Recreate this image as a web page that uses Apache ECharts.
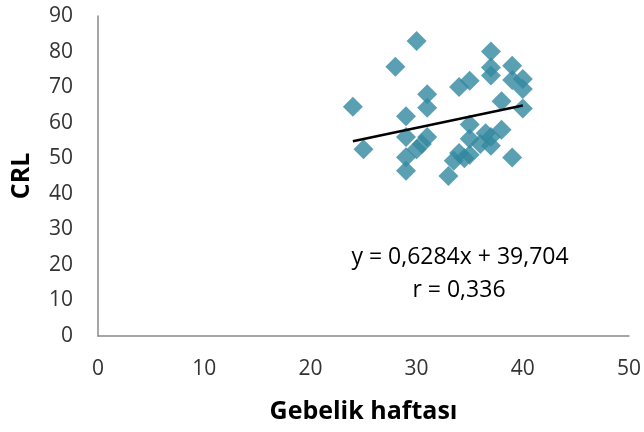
<!DOCTYPE html>
<html>
<head>
<meta charset="utf-8">
<script src="https://cdn.jsdelivr.net/npm/echarts@6/dist/echarts.min.js"></script>
<style>html,body{margin:0;padding:0;background:#fff}#c{width:644px;height:432px}</style>
</head>
<body>
<div id="c"></div>
<script>
// Data: [gestational week, CRL]
const weeks = [24, 25, 28, 30, 29, 29, 29, 29, 31, 31, 31, 30.5, 30, 33.5, 34.5, 33, 35, 35, 36.5, 37, 38, 34, 35, 39, 37, 37, 37, 39, 40, 39, 40, 34, 35, 38, 40, 36, 37];
const crl   = [64.5, 52.5, 75.7, 83, 61.8, 56, 50.3, 46.5, 68, 64.2, 56, 54, 52.5, 49.3, 50, 45, 59.5, 55.5, 57, 53.5, 58, 51.5, 51, 50.2, 80, 75.5, 73.3, 76, 72.3, 72, 69.5, 70, 71.8, 66, 64, 54, 56];
const xTicks = [0, 10, 20, 30, 40, 50];
const yTicks = [0, 10, 20, 30, 40, 50, 60, 70, 80, 90];
const slope = 0.6284;
const intercept = 39.704;
const trendRange = [24, 40];
const equationText = 'y = 0,6284x + 39,704';
const rText = 'r = 0,336';

const points = weeks.map((w, i) => [w, crl[i]]);
const trend = trendRange.map(x => [x, slope * x + intercept]);

const font = 'Open Sans';
const chart = echarts.init(document.getElementById('c'), null, {renderer: 'canvas'});
chart.setOption({
  animation: false,
  grid: {left: 98, right: 13, top: 16, bottom: 96},
  xAxis: {
    type: 'value', min: xTicks[0], max: xTicks[xTicks.length - 1], interval: 10,
    name: 'Gebelik haftası', nameLocation: 'middle', nameGap: 63,
    nameTextStyle: {fontFamily: font, fontSize: 25, fontWeight: 'bold', color: '#000'},
    axisLine: {show: true, lineStyle: {color: '#898989', width: 1.5}},
    axisTick: {show: false}, splitLine: {show: false},
    axisLabel: {fontFamily: font, fontSize: 21, color: '#333', margin: 23}
  },
  yAxis: {
    type: 'value', min: yTicks[0], max: yTicks[yTicks.length - 1], interval: 10,
    name: 'CRL', nameLocation: 'middle', nameGap: 64,
    nameTextStyle: {fontFamily: font, fontSize: 25, fontWeight: 'bold', color: '#000'},
    axisLine: {show: true, lineStyle: {color: '#898989', width: 1.5}},
    axisTick: {show: false}, splitLine: {show: false},
    axisLabel: {fontFamily: font, fontSize: 21, color: '#333', margin: 25}
  },
  series: [
    {type: 'scatter', data: points, symbol: 'diamond', symbolSize: 20,
     itemStyle: {color: '#32889F'}, z: 2},
    {type: 'line', data: trend, symbol: 'none', lineStyle: {color: '#000', width: 2.5}, z: 3}
  ],
  graphic: [
    {type: 'text', x: 460, y: 257, style: {text: equationText, fontFamily: font, fontSize: 23, fill: '#000', align: 'center', verticalAlign: 'middle'}},
    {type: 'text', x: 459, y: 290, style: {text: rText, fontFamily: font, fontSize: 23, fill: '#000', align: 'center', verticalAlign: 'middle'}}
  ]
});
</script>
</body>
</html>
